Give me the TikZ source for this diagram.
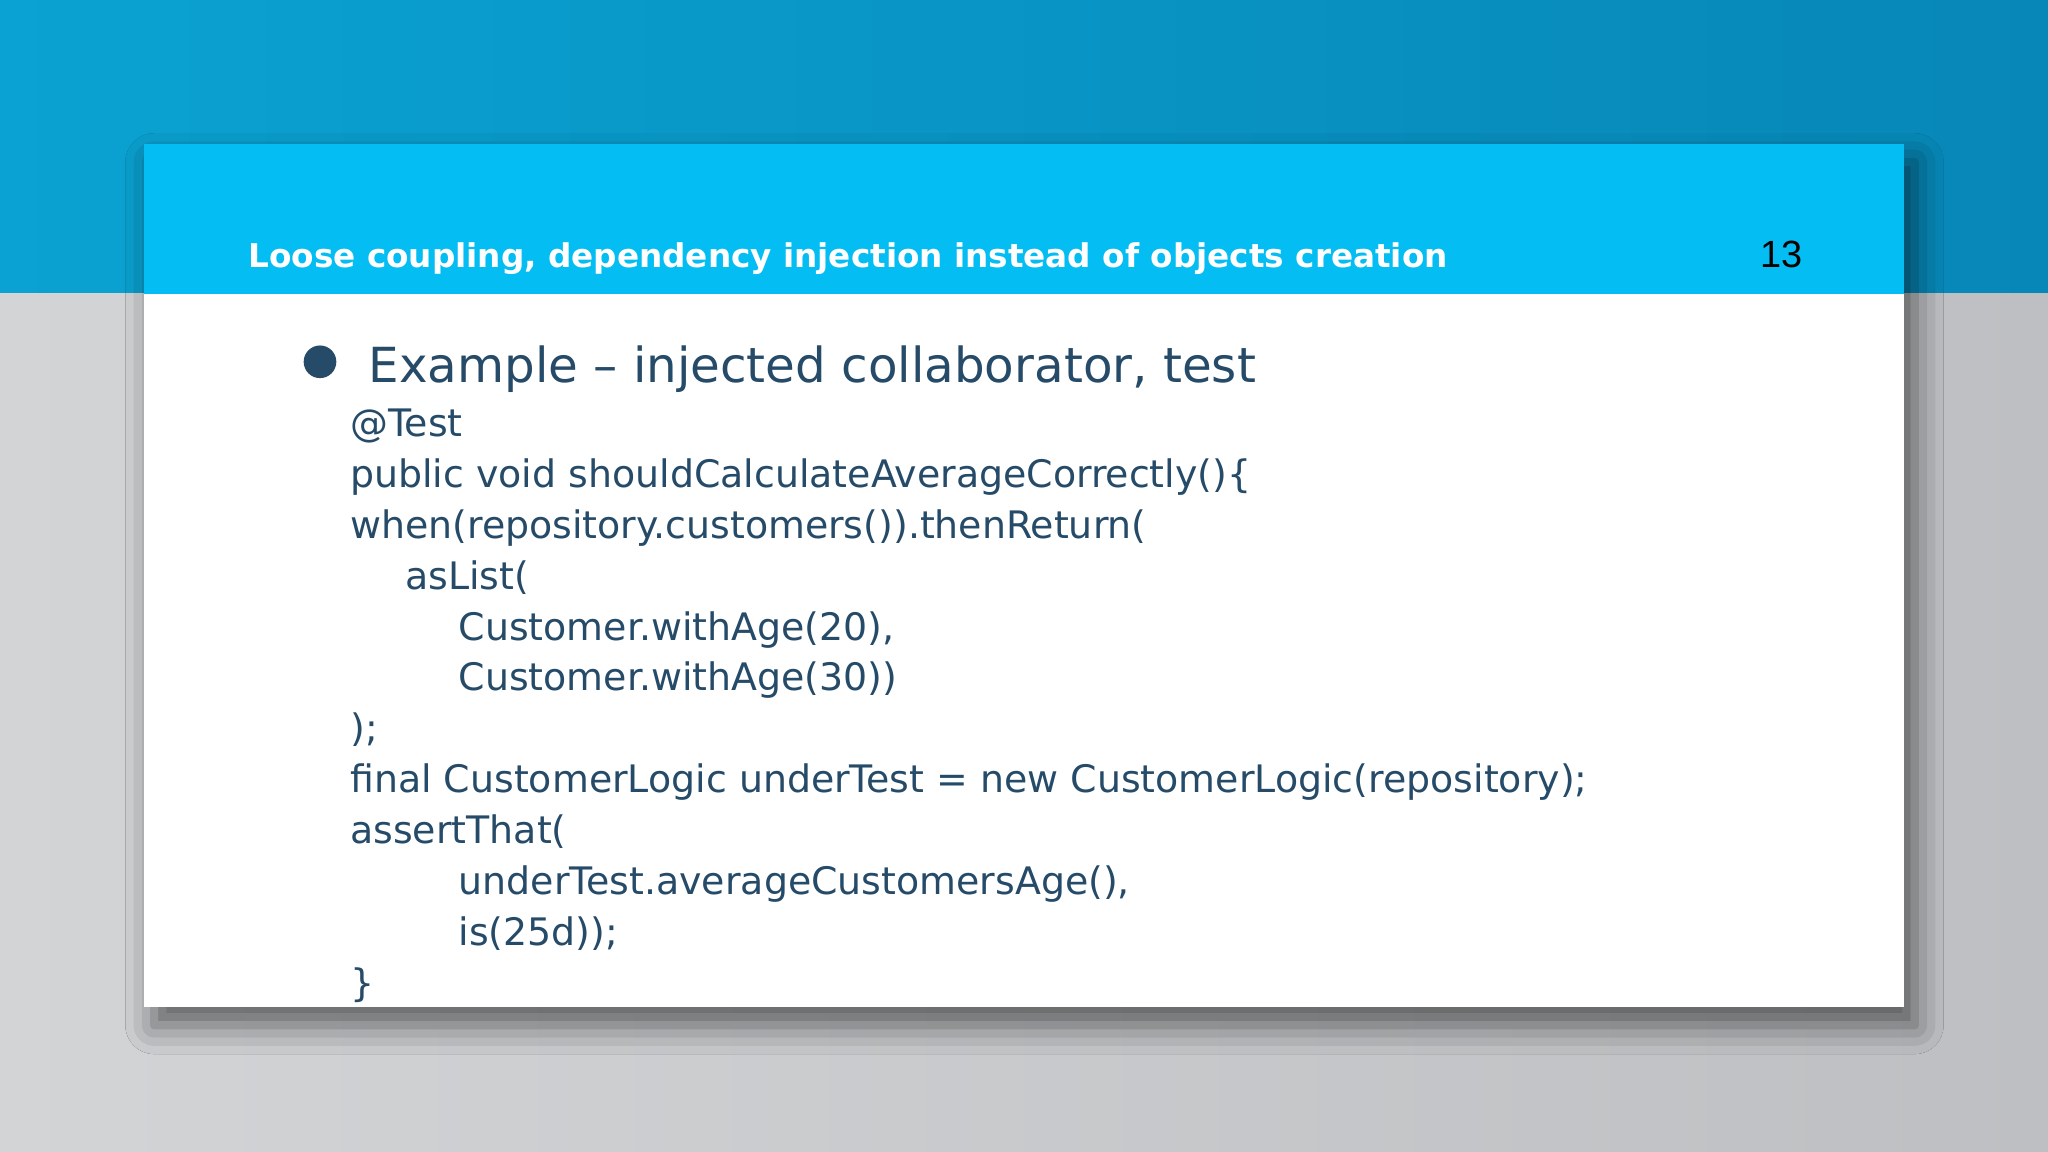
\documentclass[tikz,border=0pt]{standalone}
\usepackage{fontspec}
\setmainfont{DejaVu Sans}
\newfontfamily\numfont{Liberation Sans}
\usetikzlibrary{shadows.blur}
\definecolor{topL}{HTML}{0AA2D2}
\definecolor{topR}{HTML}{0787B7}
\definecolor{grayL}{HTML}{D2D4D6}
\definecolor{grayR}{HTML}{BDBFC2}
\definecolor{cyanbar}{HTML}{04BDF2}
\definecolor{txt}{HTML}{264B69}
\tikzset{code/.style={anchor=base west,inner sep=0,text=txt,font=\fontsize{29}{29}\selectfont}}
\begin{document}
\begin{tikzpicture}[x=1pt,y=-1pt]
\useasboundingbox (0,0) rectangle (1568,882);
\shade[left color=topL,right color=topR] (0,0) rectangle (1568,225);
\shade[left color=grayL,right color=grayR] (0,225) rectangle (1568,882);
\fill[white,blur shadow={shadow xshift=8pt,shadow yshift=-14pt,shadow blur radius=22pt,shadow opacity=55}] (110,110) rectangle (1458,771);
\fill[cyanbar] (110,110) rectangle (1458,225);
\node[anchor=base west,inner sep=0,text=white,font=\bfseries\fontsize{25}{25}\selectfont] (title) at (190,205) {Loose coupling, dependency injection instead of objects creation};
\node[anchor=base west,inner sep=0,font=\numfont\fontsize{29}{29}\selectfont] (num) at (1348,205) {13};
\fill[txt] (245,277) circle (12.5);
\node[anchor=base west,inner sep=0,text=txt,font=\fontsize{37}{37}\selectfont] (head) at (282,293) {Example – injected collaborator, test};
\node[code] (l1) at (268,334) {@Test};
\node[code] (l2) at (268,373) {public void shouldCalculateAverageCorrectly()\{};
\node[code] (l3) at (268,412) {when(repository.customers()).thenReturn(};
\node[code] (l4) at (310,451) {asList(};
\node[code] (l5) at (351,490) {Customer.withAge(20),};
\node[code] (l6) at (351,529) {Customer.withAge(30))};
\node[code] (l7) at (268,568) {);};
\node[code] (l8) at (268,607) {final CustomerLogic underTest = new CustomerLogic(repository);};
\node[code] (l9) at (268,646) {assertThat(};
\node[code] (l10) at (351,685) {underTest.averageCustomersAge(),};
\node[code] (l11) at (351,724) {is(25d));};
\node[code] (l12) at (268,763) {\}};
\end{tikzpicture}
\end{document}
